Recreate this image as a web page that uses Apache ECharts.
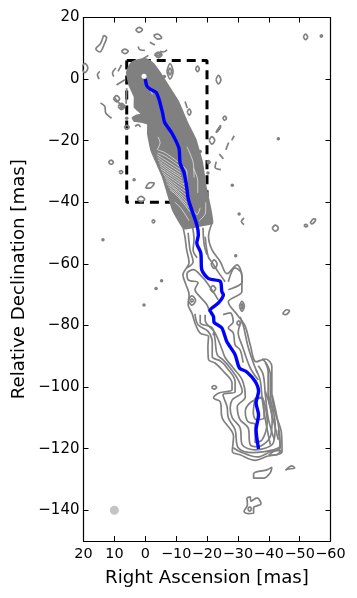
<!DOCTYPE html>
<html><head><meta charset="utf-8">
<style>html,body{margin:0;padding:0;background:#fff}#c{width:357px;height:598px}</style>
<script src="https://cdn.jsdelivr.net/npm/echarts@6/dist/echarts.min.js"></script>
</head><body><div id="c"></div>
<script>
const xTicks=[20,10,0,-10,-20,-30,-40,-50,-60];
const yTicks=[20,0,-20,-40,-60,-80,-100,-120,-140];
const ridgeLine=[[0,0],[-0.5,-2.2],[-1.5,-3.2],[-3.5,-4.3],[-4.5,-6.7],[-5.6,-11],[-6.3,-14.1],[-8.6,-17.5],[-10.9,-22.4],[-11.3,-27.3],[-12.6,-30.5],[-13.4,-34.9],[-14,-39.2],[-16.7,-47.3],[-17.2,-50.6],[-16.7,-53.2],[-18,-56.5],[-18.3,-61.9],[-20.5,-64.8],[-24.3,-65.7],[-24.8,-69],[-25.3,-70],[-23.7,-72.7],[-21,-75.1],[-22.1,-77.1],[-22.3,-79],[-24.8,-80.8],[-26.4,-85.2],[-29.1,-89.5],[-30.5,-93.8],[-32.9,-95.1],[-35.6,-98.2],[-36.7,-101.4],[-35.9,-105.2],[-36.7,-109],[-35.9,-113.9],[-36.7,-120.1]];
const boxOutline=[[6,6],[-20,6],[-20,-40],[6,-40],[6,6]];
const coreBody=[[5.6,3.4],[4.6,5.2],[3.3,6],[0.1,6.6],[-1.4,6],[-2.8,4.8],[-5.5,1],[-8.2,-3.3],[-10.9,-7.6],[-13.6,-14],[-16.3,-19.5],[-18.5,-27.1],[-19.6,-34.7],[-21.2,-42.2],[-21.8,-46.8],[-17,-47.8],[-12.5,-48.6],[-8.9,-42.6],[-5.6,-31.8],[-1.9,-23.2],[-0.8,-17.7],[-0.8,-14.6],[1,-14],[3.6,-13.6],[4.2,-12.6],[3,-11.8],[1.2,-11.4],[3.5,-9.1],[3.5,-5.8],[5.2,-2],[6,1.9]];
const outerContour=[[-12.3,-48.4],[-12.9,-51.5],[-13.4,-55.4],[-14.2,-59.6],[-12.2,-63.5],[-13.2,-66.8],[-14.2,-70],[-13.9,-73.3],[-15.2,-76.2],[-16.1,-79.2],[-17.8,-82.5],[-20.5,-83.6],[-20.3,-86.8],[-20.5,-91.1],[-22.6,-92.2],[-25.3,-94.9],[-28.1,-98.7],[-28.1,-100.9],[-23.7,-102],[-22.1,-103.6],[-24.3,-104.8],[-24.9,-110],[-28.6,-116],[-28.2,-120.9],[-30.7,-122],[-35.6,-123.8],[-39.4,-122.5],[-44.3,-120.9],[-44.1,-114.9],[-42.1,-108.4],[-41,-102],[-41,-93.3],[-38.9,-90.9],[-35.9,-91.8],[-34,-86.3],[-32.4,-80.3],[-30.1,-76.9],[-26.9,-72.3],[-31.3,-69],[-31.3,-64.1],[-29.7,-60.3],[-26.5,-63.2],[-24.3,-59.3],[-21.6,-55.4],[-20.5,-51.1],[-21.6,-46.8]];
const lowerLeft2=[[-16.1,-76.2],[-17.1,-79.8],[-20.4,-82],[-21.7,-85.6],[-21.7,-90.2],[-24.3,-91.5],[-26.5,-93.8],[-29.1,-98.3],[-29.1,-101.5],[-25.2,-102.5],[-26.5,-106.4],[-26.9,-110],[-29.1,-113.9],[-30.1,-119.7],[-35,-121.3],[-41.5,-120.4],[-43.7,-119.1],[-43.1,-112.2],[-41.1,-102.5]];
const lowerLeft3=[[-17.8,-76.5],[-17.8,-79.1],[-21.7,-80.8],[-22.6,-84.7],[-23.3,-89.5],[-25.2,-91.2],[-27.5,-93.8],[-30.1,-97.7],[-31.4,-101.5],[-28.2,-104.1],[-27.5,-106.7],[-28.2,-110],[-30.7,-113.2],[-31.4,-118.7],[-35.6,-120.4],[-41.5,-118.1],[-42.1,-112.2],[-39.8,-102.5]];
const lowerLeft4=[[-19.4,-76.5],[-19.4,-78.2],[-22.6,-82.4],[-24.9,-87.9],[-25.9,-90.5],[-28.5,-93.8],[-31.4,-97.7],[-32.4,-103.2],[-29.8,-106.4],[-30.7,-110.6],[-33.3,-113.2],[-34,-118.7],[-36.3,-119.4],[-40.5,-116.1],[-41.1,-110.6],[-38.9,-101.5]];
const lowerInner5=[[-37.9,-103.2],[-34,-105.1],[-32.4,-108],[-33.3,-111.3],[-35.6,-112.2],[-35.6,-118.1],[-37.9,-117.1],[-39.5,-111.3],[-38.9,-106.4],[-37.9,-103.2]];
const lowerInner6=[[-35.6,-103.5],[-35,-108.3],[-35.9,-110.6],[-38.5,-110],[-38.2,-104.1],[-35.6,-103.5]];
const lowerBottom=[[-28.5,-119.7],[-30.7,-121],[-36.3,-122.7],[-40.5,-121],[-43.7,-119.7],[-43.1,-113.9]];
const rightBand2=[[-38.9,-92.1],[-39.8,-95],[-39.8,-102.5],[-41.1,-109],[-43.1,-117.1]];
const rightBand3=[[-36.6,-93.1],[-38.2,-96],[-38.9,-102.5],[-39.8,-110],[-41.8,-117.1]];
const rightBand4=[[-35.9,-94.4],[-37.2,-97.7],[-37.9,-104.1],[-38.9,-110.6],[-40.5,-118.7]];
const rightBand5=[[-37.9,-90.8],[-39.5,-92.8],[-40.5,-96],[-40.5,-102.5],[-41.5,-108.3]];
const upperRight1=[[-25.2,-76.5],[-27.5,-75.9],[-28.5,-78.8],[-26.9,-80.8],[-28.5,-82.4],[-29.1,-86.3],[-30.7,-87.9],[-31.7,-92.1]];
const upperRight2=[[-30.7,-77.2],[-31.7,-79.8],[-33.3,-86.9],[-35,-92.1],[-36.3,-95.4]];
const upperRight3=[[-31.4,-78.2],[-30.1,-82.4],[-31.4,-86.6],[-34,-93.8],[-36.6,-97.7]];
const midLeft1=[[-13.5,-62.9],[-13.9,-65.2],[-17.1,-66.1],[-16.1,-68.4],[-17.1,-70],[-20,-73.3],[-20.7,-75.6]];
const midLeft2=[[-13.5,-62.9],[-15.5,-61.9],[-18.4,-64.2],[-20,-66.1],[-22.6,-70],[-23.6,-71.7]];
const midLeft3=[[-13.9,-49.9],[-14.5,-55.4],[-15.5,-59.3],[-13.5,-61.3]];
const midRight=[[-19.4,-51.2],[-20.4,-57.7],[-21.7,-59.6],[-23.6,-62.6],[-25.9,-65.8]];
const ridgeEdgeL=[[-15.2,-47.3],[-15.8,-52.2],[-15.5,-55.4],[-16.8,-58]];
const ridgeEdgeR=[[-18.7,-48.3],[-19.1,-53.8],[-20,-57]];
const lobeInner=[[-26.9,-65.8],[-29.1,-61.3],[-31.1,-62.9],[-31.4,-65.8],[-26.9,-68.4]];
const blobSouth=[[-35.1,-127.9],[-36.7,-127.4],[-39.4,-126.9],[-41,-126],[-40.5,-127.8],[-38.3,-129.6],[-35.1,-129.6],[-35.1,-127.9]];
const streakSouth=[[-45.4,-127.1],[-47.5,-125.6],[-48.4,-126.3],[-46,-126.7],[-45.4,-127.1]];
const blobFarSouth=[[-32.9,-136],[-34,-135.7],[-34.2,-137.1],[-36.2,-136],[-37.5,-137.9],[-35.1,-139.2],[-35.1,-140.9],[-33.4,-141.1],[-32,-140.4],[-33.1,-138.2],[-32.9,-136]];
const openArcs=[
 [[2.3,10.6],[1.7,9.5],[0.1,9.3]],[[-1.5,12],[-3.1,11.1]],[[-4.8,9],[-5.8,8.8],[-7.1,9.5]],[[1.2,6.3],[-1,7.7]],
 [[14.7,2.5],[15.5,1.4],[14.9,0]],[[9.5,3.6],[10.6,1.9],[10.2,0.8]],[[7.7,4.6],[8.8,2.5]],[[9.3,-1.9],[6.6,-0.2]],
 [[14.5,-7.8],[13.1,-8.9],[12.8,-11],[10.9,-12.7]],[[10,-6],[7,-9.5]],[[6,-3],[6.2,-8]],[[3.3,-15.4],[2.3,-14.8],[1.5,-15.6]],
 [[-12.9,-7.3],[-13.6,-9.4]],[[-28.8,-18.4],[-28,-19.9]],[[-27,-20.6],[-26.1,-23]],[[-24,-24.3],[-25.3,-25.9]],
 [[-23,-26.8],[-22.6,-28.6],[-24.5,-29.4]],[[-32,-45.1],[-31.1,-46.2],[-32,-47.3]]
];
const ringsA=[
 [[3.1,16],[2,16.8],[0.9,16],[2,15.2],[3.1,16]],[[-2.7,14.2],[-4,14.6],[-5.3,13.4],[-4,13],[-2.7,14.2]],
 [[13.5,14.2],[14.5,11.5],[16,9.8],[14.7,8.8],[13.2,11.5],[12.5,13.5],[13.5,14.2]],[[7.7,9],[6.6,9.7],[5.5,9],[6.6,8.3],[7.7,9]],
 [[-3,7.9],[-4.2,8.8],[-5.4,7.9],[-4.2,7],[-3,7.9]],[[-3.5,7.9],[-4.2,8.3],[-4.9,7.9],[-4.2,7.5],[-3.5,7.9]],
 [[-7,2.5],[-8,5],[-9,2.5],[-8,0],[-7,2.5]],[[-7.5,2.5],[-8,3.6],[-8.5,2.5],[-8,1.4],[-7.5,2.5]],
 [[-16.3,3.3],[-16.9,4.2],[-17.5,3.3],[-16.9,2.4],[-16.3,3.3]],[[-22.9,-0.2],[-23.7,1.2],[-24.5,-0.2],[-23.7,-1.6],[-22.9,-0.2]],
 [[20.6,3.6],[19.6,5.1],[18.6,3.6],[19.6,2.1],[20.6,3.6]],[[10.3,-6.4],[9.3,-5.4],[8.3,-6.4],[9.3,-7.4],[10.3,-6.4]],
 [[8.8,-8.9],[7.7,-7.9],[6.6,-8.9],[7.7,-9.9],[8.8,-8.9]],[[8.3,-8.9],[7.7,-8.4],[7.1,-8.9],[7.7,-9.4],[8.3,-8.9]],
 [[6.8,-15.6],[6,-15],[5.2,-15.6],[6,-16.2],[6.8,-15.6]],[[-13.6,-10.7],[-14.2,-9.7],[-14.8,-10.7],[-14.2,-11.7],[-13.6,-10.7]]
];
const ringsB=[
 [[-25.1,-12.7],[-25.7,-12],[-26.3,-12.7],[-25.7,-13.4],[-25.1,-12.7]],[[-23,-17],[-24.4,-15],[-24.4,-15.4],[-23,-17.4],[-23,-17]],
 [[-20.7,-19.9],[-21.6,-18.7],[-22.5,-19.9],[-21.6,-21.1],[-20.7,-19.9]],[[-20,-27],[-20.5,-26.5],[-21,-27],[-20.5,-27.5],[-20,-27]],
 [[11.9,-27],[11.1,-26.3],[10.3,-27],[11.1,-27.7],[11.9,-27]],[[8.5,-30.2],[7.9,-29.7],[7.3,-30.2],[7.9,-30.7],[8.5,-30.2]],
 [[-0.1,-35.4],[-1.5,-33.6],[-2.9,-33.8],[-1.5,-35.4],[-0.1,-35.4]],[[2.6,-39],[1.4,-38.1],[0.2,-39],[1.4,-39.9],[2.6,-39]],
 [[-41.1,-48.4],[-42.1,-47.4],[-43.1,-48.4],[-42.1,-49.4],[-41.1,-48.4]],[[-53.4,-46.8],[-54.6,-45.4],[-55.2,-45.6],[-54,-47],[-53.4,-46.8]],
 [[-2.1,-46.2],[-2.6,-45.7],[-3.1,-46.2],[-2.6,-46.7],[-2.1,-46.2]],[[-44.5,-76.2],[-45.8,-74.9],[-46.7,-75.2],[-45.4,-76.5],[-44.5,-76.2]],
 [[-30.5,-73.8],[-31.3,-72.2],[-32.1,-73.8],[-31.3,-75.4],[-30.5,-73.8]],[[-31,-73.8],[-31.3,-73],[-31.6,-73.8],[-31.3,-74.6],[-31,-73.8]],
 [[-51.2,13.7],[-51.9,14.6],[-52.6,13.7],[-51.9,12.8],[-51.2,13.7]],[[-56.6,14],[-57,14.4],[-57.4,14],[-57,13.6],[-56.6,14]],
 [[-21.3,-60.1],[-22.3,-58.7],[-23.3,-60.1],[-22.3,-61.5],[-21.3,-60.1]],[[-21,-68.1],[-21.9,-67.1],[-22.8,-68.1],[-21.9,-69.1],[-21,-68.1]],
 [[-13.9,-71.9],[-15.1,-70.4],[-16.3,-71.9],[-15.1,-73.4],[-13.9,-71.9]],[[-14.6,-71.9],[-15.1,-71.4],[-15.6,-71.9],[-15.1,-72.4],[-14.6,-71.9]],
 [[-29.6,-79.2],[-30.2,-78.5],[-30.8,-79.2],[-30.2,-79.9],[-29.6,-79.2]],[[-21.5,-100.1],[-22.3,-99.5],[-23.1,-100.1],[-22.3,-100.7],[-21.5,-100.1]],
 [[-40,-122.2],[-41.6,-120.9],[-44,-120.6],[-42.6,-122],[-40,-122.2]],[[-33.2,-139.6],[-33.8,-138.9],[-34.4,-139.6],[-33.8,-140.3],[-33.2,-139.6]],
 [[-51.4,-47.6],[-52,-47.2],[-52.6,-47.6],[-52,-48],[-51.4,-47.6]]
];
const speckDots=[[-6.2,0.8],[6,-12.7],[-20.3,-30.5],[-28.2,-34.5],[3.6,-32.7],[-17.8,-23.5],[-30.4,-43.8],[-5.3,-65.5],[0.4,-73.4],[-29.3,-57.4],[-43.1,-19.4],[13.7,-52.2],[-22.3,-82.8],[-3.5,-68]];
const gapStrokes=[
 [[-4.1,-18.7],[-4.8,-20.7],[-3.8,-23]],[[-4.1,-23],[-6.4,-23.9],[-10.6,-26.9]],[[-3.8,-24.6],[-6.4,-26.2],[-11.3,-29.4]],
 [[-4.1,-26.2],[-6.7,-28.2],[-11.6,-31.4]],[[-4.8,-28.2],[-7.4,-30.1],[-12.2,-33.3]],[[-5.4,-30.1],[-8,-32],[-12.9,-35.3]],
 [[-6.4,-32],[-8.7,-34],[-13.5,-37.9]],[[-7,-34],[-9.6,-35.9],[-13.9,-40.5]],[[-8,-35.9],[-10.6,-38.2],[-14.5,-43.1]],
 [[-4,-24],[-6.4,-25],[-11,-28.2]],[[-4,-25.4],[-6.5,-27.2],[-11.5,-30.4]],[[-4.5,-27.2],[-7,-29.1],[-12,-32.3]],
 [[-5,-29.1],[-7.7,-31],[-12.5,-34.3]],[[-5.9,-31],[-8.3,-33],[-13.2,-36.6]],[[-6.7,-33],[-9.1,-35],[-13.7,-39.2]],[[-7.5,-35],[-10,-37],[-14.2,-41.8]],
 [[-9.6,-40],[-11.6,-42],[-14.2,-46]],[[-12.2,-28.2],[-13.5,-30.1],[-13.5,-33.3],[-12.2,-34]],
 [[-14.5,-40.8],[-16.8,-44],[-17.8,-41.8]],[[-17.5,-46],[-19.5,-43.5],[-19.6,-40]],[[-15.6,-29],[-17,-33],[-17,-37]],
 [[-13.5,-22],[-15.5,-27],[-15.8,-32]],[[-4.3,-5.5],[-5.2,-10.5]],[[-1.5,-2.8],[-2.3,-5]]
];
const beamPoint=[[10,-140]];
const corePoint=[[0.4,0.9]];

const GREY='#808080';
const lines=[outerContour,lowerLeft2,lowerLeft3,lowerLeft4,lowerInner5,lowerInner6,lowerBottom,rightBand2,rightBand3,rightBand4,rightBand5,upperRight1,upperRight2,upperRight3,midLeft1,midLeft2,midLeft3,midRight,ridgeEdgeL,ridgeEdgeR,lobeInner,blobSouth,streakSouth,blobFarSouth,...openArcs,...ringsA,...ringsB];
const minusFmt=v=>String(v).replace('-','\u2212');
const tickFontX={fontFamily:'DejaVu Sans',fontSize:14.4,color:'#000'};
const tickFontY={fontFamily:'DejaVu Sans',fontSize:15,color:'#000'};
const line1={show:true,onZero:false,lineStyle:{color:'#000',width:1.2}};
const chart=echarts.init(document.getElementById('c'),null,{renderer:'canvas'});
const series=[
 {type:'line',data:boxOutline,showSymbol:false,silent:true,z:1,lineStyle:{color:'#000',width:3,type:[9,6]}},
 {type:'custom',coordinateSystem:'cartesian2d',data:[[0,0]],silent:true,z:2,clip:true,
  renderItem:(p,api)=>({type:'polygon',shape:{points:coreBody.map(c=>api.coord(c)),smooth:0.1},style:{fill:GREY,stroke:GREY,lineWidth:1.5}})},
 ...lines.map(d=>({type:'line',data:d,showSymbol:false,silent:true,smooth:d.length>2?0.35:false,z:3,lineStyle:{color:GREY,width:1.7}})),
 ...gapStrokes.map(d=>({type:'line',data:d,showSymbol:false,silent:true,smooth:0.3,z:4,lineStyle:{color:'#fff',width:0.7,opacity:0.9}})),
 {type:'scatter',data:speckDots,symbolSize:3.5,silent:true,z:3,itemStyle:{color:GREY,opacity:1}},
 {type:'scatter',data:corePoint,symbolSize:5,silent:true,z:4,itemStyle:{color:'#fff',opacity:1}},
 {type:'scatter',data:beamPoint,symbolSize:9,silent:true,z:3,itemStyle:{color:'#c4c4c4',opacity:1}},
 {type:'line',data:ridgeLine,showSymbol:false,silent:true,smooth:0.25,z:5,lineStyle:{color:'#0000ff',width:3.4}}
];
chart.setOption({
 animation:false,backgroundColor:'#fff',
 grid:{left:83.5,right:26.5,top:17.5,bottom:57,containLabel:false},
 xAxis:[
  {type:'value',min:-60,max:20,inverse:true,position:'bottom',splitLine:{show:false},axisLine:line1,
   axisTick:{show:true,inside:true,length:5,lineStyle:{color:'#000',width:1},customValues:xTicks},
   axisLabel:{...tickFontX,margin:6,customValues:xTicks,formatter:minusFmt,hideOverlap:false,alignMinLabel:'center',alignMaxLabel:'center'},
   name:'Right Ascension [mas]',nameLocation:'middle',nameGap:28.5,nameMoveOverlap:false,nameTextStyle:{fontFamily:'DejaVu Sans',fontSize:18.2,color:'#000'}},
  {type:'value',min:-60,max:20,inverse:true,position:'top',splitLine:{show:false},axisLine:line1,
   axisTick:{show:true,inside:true,length:5,lineStyle:{color:'#000',width:1},customValues:xTicks},axisLabel:{show:false}}
 ],
 yAxis:[
  {type:'value',min:-150,max:20,position:'left',splitLine:{show:false},axisLine:line1,
   axisTick:{show:true,inside:true,length:5,lineStyle:{color:'#000',width:1},customValues:yTicks},
   axisLabel:{...tickFontY,margin:4,customValues:yTicks,formatter:minusFmt,hideOverlap:false},
   name:'Relative Declination [mas]',nameLocation:'middle',nameGap:55,nameMoveOverlap:false,nameTextStyle:{fontFamily:'DejaVu Sans',fontSize:18.2,color:'#000'}},
  {type:'value',min:-150,max:20,position:'right',splitLine:{show:false},axisLine:line1,
   axisTick:{show:true,inside:true,length:5,lineStyle:{color:'#000',width:1},customValues:yTicks},axisLabel:{show:false}}
 ],
 series
});
</script></body></html>
